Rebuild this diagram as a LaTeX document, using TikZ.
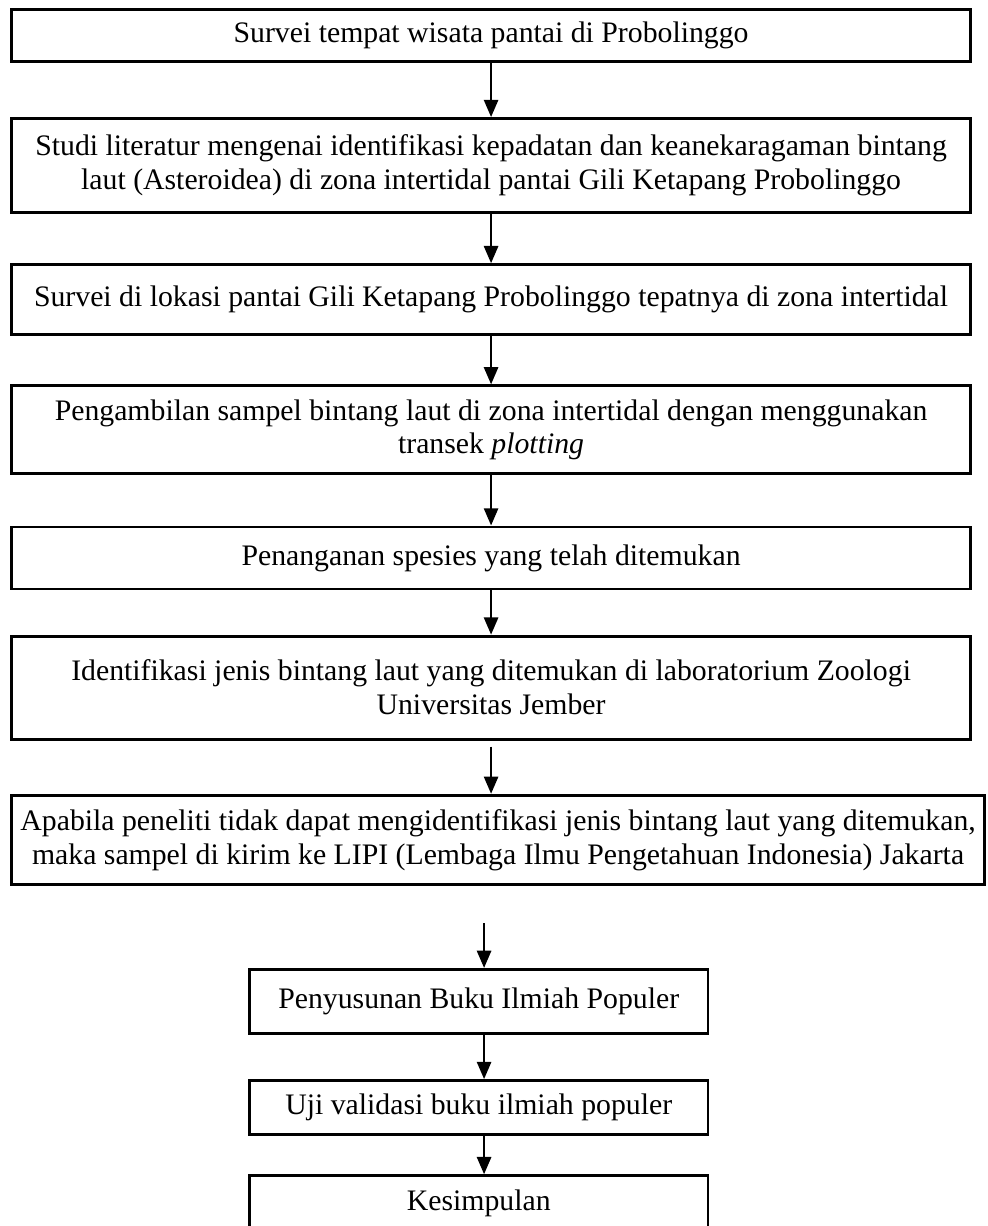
\documentclass[tikz,border=0pt]{standalone}
\usepackage{fontspec}
\setmainfont{Liberation Serif}
\usetikzlibrary{arrows.meta, positioning}

\begin{document}
\begin{tikzpicture}[
    node distance=0.74cm,
    box/.style={rectangle, draw, line width=1.2pt, align=center,
                minimum width=14.39cm, font=\fontsize{12.7}{14.5}\selectfont},
    sbox/.style={box, minimum width=6.875cm},
    arr/.style={-{Triangle[length=2.6mm, width=2.1mm]}, line width=1.2pt}
]
  \useasboundingbox (0,0) rectangle (14.805,-18.39);

  \node[box, minimum height=0.78cm, anchor=north west] (survei) at (0.15,-0.12)
        {Survei tempat wisata pantai di Probolinggo};
  \node[box, minimum height=1.41cm, below=0.815cm of survei] (studi)
        {Studi literatur mengenai identifikasi kepadatan dan keanekaragaman bintang\\
         laut (Asteroidea) di zona intertidal pantai Gili Ketapang Probolinggo};
  \node[box, minimum height=1.05cm, below=0.74cm of studi] (lokasi)
        {Survei di lokasi pantai Gili Ketapang Probolinggo tepatnya di zona intertidal};
  \node[box, minimum height=1.32cm, below=0.725cm of lokasi] (sampel)
        {Pengambilan sampel bintang laut di zona intertidal dengan menggunakan\\
         transek \textit{plotting}};
  \node[box, minimum height=0.93cm, below=0.755cm of sampel] (tangani)
        {Penanganan spesies yang telah ditemukan};
  \node[box, minimum height=1.545cm, below=0.665cm of tangani] (ident)
        {Identifikasi jenis bintang laut yang ditemukan di laboratorium Zoologi\\
         Universitas Jember};
  \node[box, minimum width=14.6cm, minimum height=1.335cm,
        below=0.80cm of ident, xshift=0.105cm] (lipi)
        {Apabila peneliti tidak dapat mengidentifikasi jenis bintang laut yang ditemukan,\\
         maka sampel di kirim ke LIPI (Lembaga Ilmu Pengetahuan Indonesia) Jakarta};
  \node[sbox, minimum height=0.96cm, below=1.235cm of lipi, xshift=-0.29cm] (buku)
        {Penyusunan Buku Ilmiah Populer};
  \node[sbox, minimum height=0.81cm, below=0.665cm of buku] (uji)
        {Uji validasi buku ilmiah populer};
  \node[sbox, minimum height=0.84cm, below=0.575cm of uji] (simpul)
        {Kesimpulan};

  \draw[arr] (survei) -- (studi);
  \draw[arr] (studi)  -- (lokasi);
  \draw[arr] (lokasi) -- (sampel);
  \draw[arr] (sampel) -- (tangani);
  \draw[arr] (tangani) -- (ident);
  \draw[arr] ([yshift=-0.9mm]ident.south) -- ([xshift=-0.105cm]lipi.north);
  \draw[arr] ([shift={(0.8mm,6.75mm)}]buku.north) -- ([xshift=0.8mm]buku.north);
  \draw[arr] ([xshift=0.8mm]buku.south) -- ([xshift=0.8mm]uji.north);
  \draw[arr] ([xshift=0.8mm]uji.south)  -- ([xshift=0.8mm]simpul.north);
\end{tikzpicture}
\end{document}
